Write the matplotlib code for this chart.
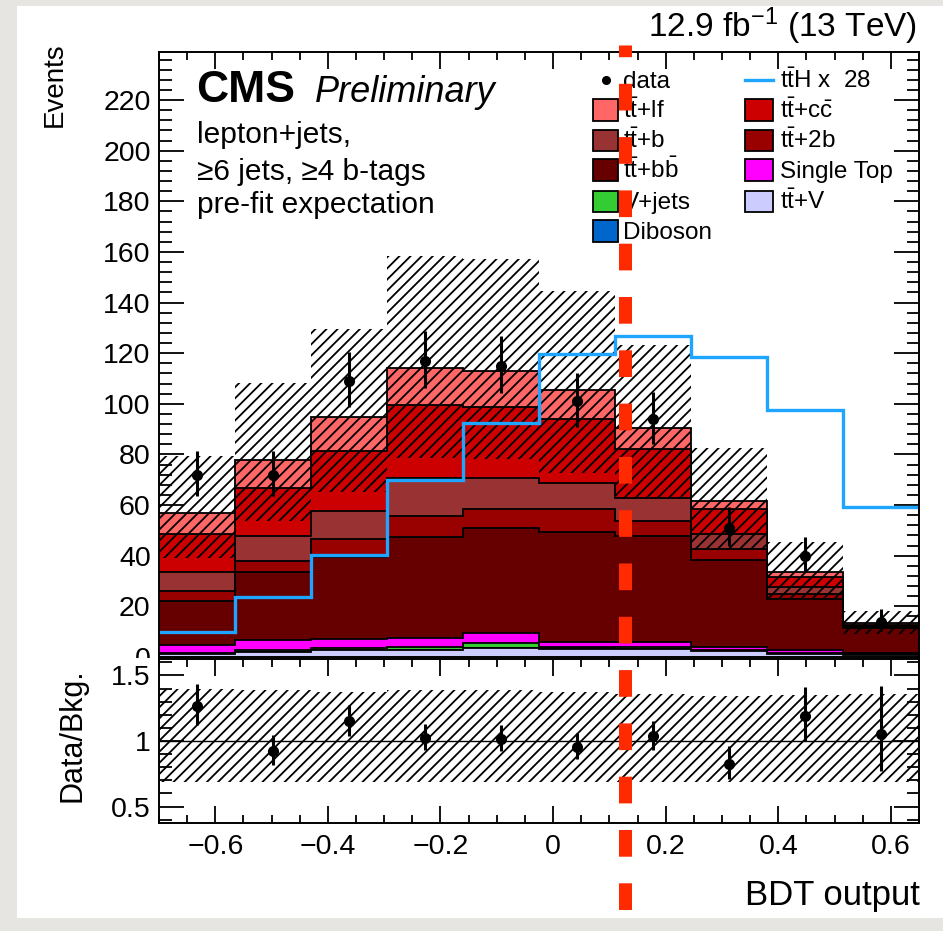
import numpy as np
import matplotlib
matplotlib.use("Agg")
import matplotlib.pyplot as plt
from matplotlib.patches import Rectangle
from matplotlib.lines import Line2D
from matplotlib.ticker import MultipleLocator, FuncFormatter

plt.rcParams["font.family"] = ["Liberation Sans", "DejaVu Sans"]
plt.rcParams["mathtext.fontset"] = "custom"
plt.rcParams["mathtext.rm"] = "Liberation Sans"
plt.rcParams["mathtext.it"] = "Liberation Sans:italic"
plt.rcParams["mathtext.bf"] = "Liberation Sans:bold"
plt.rcParams["hatch.linewidth"] = 1.3
plt.rcParams["hatch.color"] = "black"
plt.rcParams["lines.scale_dashes"] = False

# ---------------- binning ----------------
x_lo, x_hi, n_bins = -0.7, 0.65, 10
edges = np.linspace(x_lo, x_hi, n_bins + 1)
centers = 0.5 * (edges[:-1] + edges[1:])

# ---------------- yields per process (events) ----------------
ttV      = [1.0, 1.9, 2.6, 2.8, 3.4, 3.3, 3.0, 2.3, 1.2, 0.9]
diboson  = [0.05, 0.1, 0.1, 0.1, 0.1, 0.1, 0.1, 0.1, 0.05, 0.05]
vjets    = [0.45, 0.9, 0.9, 1.1, 2.1, 0.6, 0.9, 0.5, 0.25, 0.05]
singletop = [3.3, 3.9, 3.4, 3.4, 4.0, 2.0, 2.0, 1.2, 1.1, 0.7]
ttbb     = [17.2, 26.7, 32.6, 40.0, 41.2, 43.5, 41.8, 34.2, 20.2, 9.6]
tt2b     = [4.0, 4.3, 6.9, 8.2, 7.5, 8.8, 6.1, 4.4, 2.2, 0.5]
ttb      = [7.5, 9.9, 11.3, 15.3, 12.6, 10.6, 8.8, 6.0, 2.5, 0.4]
ttcc     = [15.0, 18.9, 23.7, 28.6, 27.7, 25.0, 19.3, 9.6, 4.0, 0.6]
ttlf     = [8.3, 11.2, 13.2, 14.5, 14.5, 11.6, 8.6, 3.3, 2.1, 0.5]

# signal (unscaled) and the display scale factor
tth = [0.357, 0.850, 1.439, 2.496, 3.296, 4.271, 4.529, 4.236, 3.482, 2.121]
tth_scale = 28

# observed events
data = [72, 72, 109, 117, 115, 101, 94, 51, 40, 14]

# relative background uncertainty band (up / down)
band_up = [1.40, 1.39, 1.37, 1.39, 1.39, 1.37, 1.36, 1.34, 1.35, 1.36]
band_dn = [0.69, 0.69, 0.69, 0.69, 0.69, 0.69, 0.69, 0.69, 0.69, 0.69]

# stack from bottom to top
stack = [
    ("tt+V",       ttV,       "#ccccff"),
    ("Diboson",    diboson,   "#0066cc"),
    ("V+jets",     vjets,     "#33cc33"),
    ("Single Top", singletop, "#ff00ff"),
    ("tt+bb",      ttbb,      "#660000"),
    ("tt+2b",      tt2b,      "#990000"),
    ("tt+b",       ttb,       "#993333"),
    ("tt+cc",      ttcc,      "#cc0000"),
    ("tt+lf",      ttlf,      "#ff6666"),
]

# ---------------- figure layout in pixels ----------------
W, H, DPI = 943, 931, 100
fig = plt.figure(figsize=(W / DPI, H / DPI), dpi=DPI, facecolor="#e7e5e1")


def fx(px):
    return px / W


def fy(py):
    return 1 - py / H


def add_axes_px(left, top, right, bottom, **kw):
    return fig.add_axes([fx(left), fy(bottom), (right - left) / W, (bottom - top) / H], **kw)


fig.add_artist(Rectangle((fx(17), fy(918)), fx(943) - fx(17), fy(6) - fy(918),
                         transform=fig.transFigure, facecolor="white",
                         edgecolor="none", zorder=-10))

ax = add_axes_px(159, 52, 919, 657)
ax.set_zorder(0)

# stacked histograms: cumulative sums drawn from the top layer down
cum = np.cumsum(np.array([s[1] for s in stack]), axis=0)
for i in range(len(stack) - 1, -1, -1):
    ax.stairs(cum[i], edges, baseline=0, fill=True, facecolor=stack[i][2],
              edgecolor="black", linewidth=1.3, zorder=2 + (len(stack) - i))

total = cum[-1]
up = np.array(band_up)
dn = np.array(band_dn)
ax.stairs(total * up, edges, baseline=total * dn, fill=True, facecolor="none",
          edgecolor="black", linewidth=0, hatch="///", zorder=20)

# scaled signal
ax.stairs(np.array(tth) * tth_scale, edges, baseline=None, color="#1ea5ff",
          linewidth=2.4, zorder=21)


# Garwood-style Poisson intervals (Wilson-Hilferty chi-square approximation)
def chi2_ppf_approx(k, z):
    return k * (1 - 2 / (9 * k) + z * np.sqrt(2 / (9 * k))) ** 3


d = np.array(data, dtype=float)
d_lo = d - 0.5 * chi2_ppf_approx(2 * d, -1.0)
d_hi = 0.5 * chi2_ppf_approx(2 * d + 2, 1.0) - d

ax.errorbar(centers, d, yerr=[d_lo, d_hi], fmt="o", color="black", ms=7,
            elinewidth=2.2, capsize=0, zorder=22)

ax.set_xlim(x_lo, x_hi)
ax.set_ylim(0, 239)
ax.yaxis.set_major_locator(MultipleLocator(20))
ax.yaxis.set_minor_locator(MultipleLocator(4))
ax.xaxis.set_major_locator(MultipleLocator(0.2))
ax.xaxis.set_minor_locator(MultipleLocator(0.05))
ax.tick_params(which="both", direction="in", top=True, right=True, width=1.3,
               labelsize=20.5, pad=6)
ax.tick_params(axis="y", which="major", length=18)
ax.tick_params(axis="y", which="minor", length=9)
ax.tick_params(axis="x", which="major", length=12)
ax.tick_params(axis="x", which="minor", length=6)
ax.tick_params(axis="x", labelbottom=False)
for sp in ax.spines.values():
    sp.set_linewidth(1.4)
    sp.set_zorder(30)

# white strip under the upper pad (lower pad background)
fig.add_artist(Rectangle((fx(17), fy(860)), fx(943) - fx(17), fy(658) - fy(860),
                         transform=fig.transFigure, facecolor="white",
                         edgecolor="none", zorder=1))

# ---------------- ratio pad ----------------
rx = add_axes_px(159, 659, 919, 823)
rx.set_zorder(2)
rx.stairs(up, edges, baseline=dn, fill=True, facecolor="none", edgecolor="black",
          linewidth=0, hatch="///", zorder=2)
rx.axhline(1.0, color="black", linewidth=1.0, zorder=3)
ratio = d / total
rx.errorbar(centers, ratio, yerr=[d_lo / total, d_hi / total], fmt="o", color="black",
            ms=7, elinewidth=2.2, capsize=0, zorder=4)
rx.set_xlim(x_lo, x_hi)
rx.set_ylim(0.375, 1.625)
rx.yaxis.set_major_locator(MultipleLocator(0.5))
rx.yaxis.set_minor_locator(MultipleLocator(0.1))
rx.yaxis.set_major_formatter(FuncFormatter(lambda v, p: f"{v:g}"))
rx.xaxis.set_major_locator(MultipleLocator(0.2))
rx.xaxis.set_minor_locator(MultipleLocator(0.05))
rx.xaxis.set_major_formatter(FuncFormatter(lambda v, p: f"{v:g}".replace("-", "\u2212")))
rx.tick_params(which="both", direction="in", top=True, right=True, width=1.3,
               labelsize=20.5)
rx.tick_params(axis="y", which="major", length=18, pad=6)
rx.tick_params(axis="y", which="minor", length=9)
rx.tick_params(axis="x", which="major", length=12, pad=8)
rx.tick_params(axis="x", which="minor", length=6)
for sp in rx.spines.values():
    sp.set_linewidth(1.4)

# ---------------- texts ----------------
fig.text(fx(196), fy(102), "CMS", fontsize=32, fontweight="bold", va="baseline")
fig.text(fx(315), fy(102), "Preliminary", fontsize=26, style="italic", va="baseline")
fig.text(fx(197), fy(143), "lepton+jets,", fontsize=21.5, va="baseline")
fig.text(fx(197), fy(180), "\u22656 jets, \u22654 b-tags", fontsize=21.5, va="baseline")
fig.text(fx(197), fy(213), "pre-fit expectation", fontsize=21.5, va="baseline")
fig.text(fx(917), fy(37), r"12.9 fb$^{\mathregular{-1}}$ (13 TeV)", fontsize=24,
         ha="right", va="baseline")
fig.text(fx(55), fy(42), "Events", fontsize=20, rotation=90, ha="center", va="top")
fig.text(fx(72), fy(735), "Data/Bkg.", fontsize=22, rotation=90, ha="center",
         va="center", zorder=3)
fig.text(fx(920), fy(905), "BDT output", fontsize=25, ha="right", va="baseline")

# ---------------- legend ----------------
leg_fs = 17.5
tt = r"$\mathregular{t\bar{t}}$"
legend_rows = [
    # (column, row_center_y, kind, color, label)
    (0, 80, "data", None, "data"),
    (0, 110, "box", "#ff6666", tt + "+lf"),
    (0, 140, "box", "#993333", tt + "+b"),
    (0, 170, "box", "#660000", tt + r"+$\mathregular{b\bar{b}}$"),
    (0, 201, "box", "#33cc33", "V+jets"),
    (0, 231, "box", "#0066cc", "Diboson"),
    (1, 80, "line", "#1ea5ff", r"$\mathregular{t\bar{t}H}$ x  %d" % tth_scale),
    (1, 110, "box", "#cc0000", tt + r"+$\mathregular{c\bar{c}}$"),
    (1, 140, "box", "#990000", tt + "+2b"),
    (1, 170, "box", "#ff00ff", "Single Top"),
    (1, 201, "box", "#ccccff", tt + "+V"),
]
col_box = [(593, 618), (745, 773)]
col_text = [623, 780]
for col, yc, kind, color, label in legend_rows:
    x0, x1 = col_box[col]
    if kind == "box":
        fig.add_artist(Rectangle((fx(x0), fy(yc + 10.5)), fx(x1) - fx(x0),
                                 fy(yc - 10.5) - fy(yc + 10.5), transform=fig.transFigure,
                                 facecolor=color, edgecolor="black", linewidth=1.3,
                                 zorder=5))
    elif kind == "line":
        fig.add_artist(Line2D([fx(x0), fx(x1)], [fy(yc), fy(yc)], transform=fig.transFigure,
                              color=color, linewidth=2.4, zorder=5))
    else:
        fig.add_artist(Line2D([fx(0.5 * (x0 + x1))], [fy(yc)], transform=fig.transFigure,
                              marker="o", markersize=5.5, color="black", linestyle="none",
                              zorder=5))
    fig.text(fx(col_text[col]), fy(yc + 8), label, fontsize=leg_fs, va="baseline", zorder=5)

# ---------------- dashed marker line ----------------
px2pt = 72.0 / DPI
fig.add_artist(Line2D([fx(625), fx(625)], [fy(45), fy(931)], transform=fig.transFigure,
                      color="#ff2a00", linewidth=13 * px2pt,
                      linestyle=(15 * px2pt, (26.7 * px2pt, 26.6 * px2pt)),
                      solid_capstyle="butt", dash_capstyle="butt", zorder=50))

fig.savefig("out.png", dpi=DPI, facecolor=fig.get_facecolor())
